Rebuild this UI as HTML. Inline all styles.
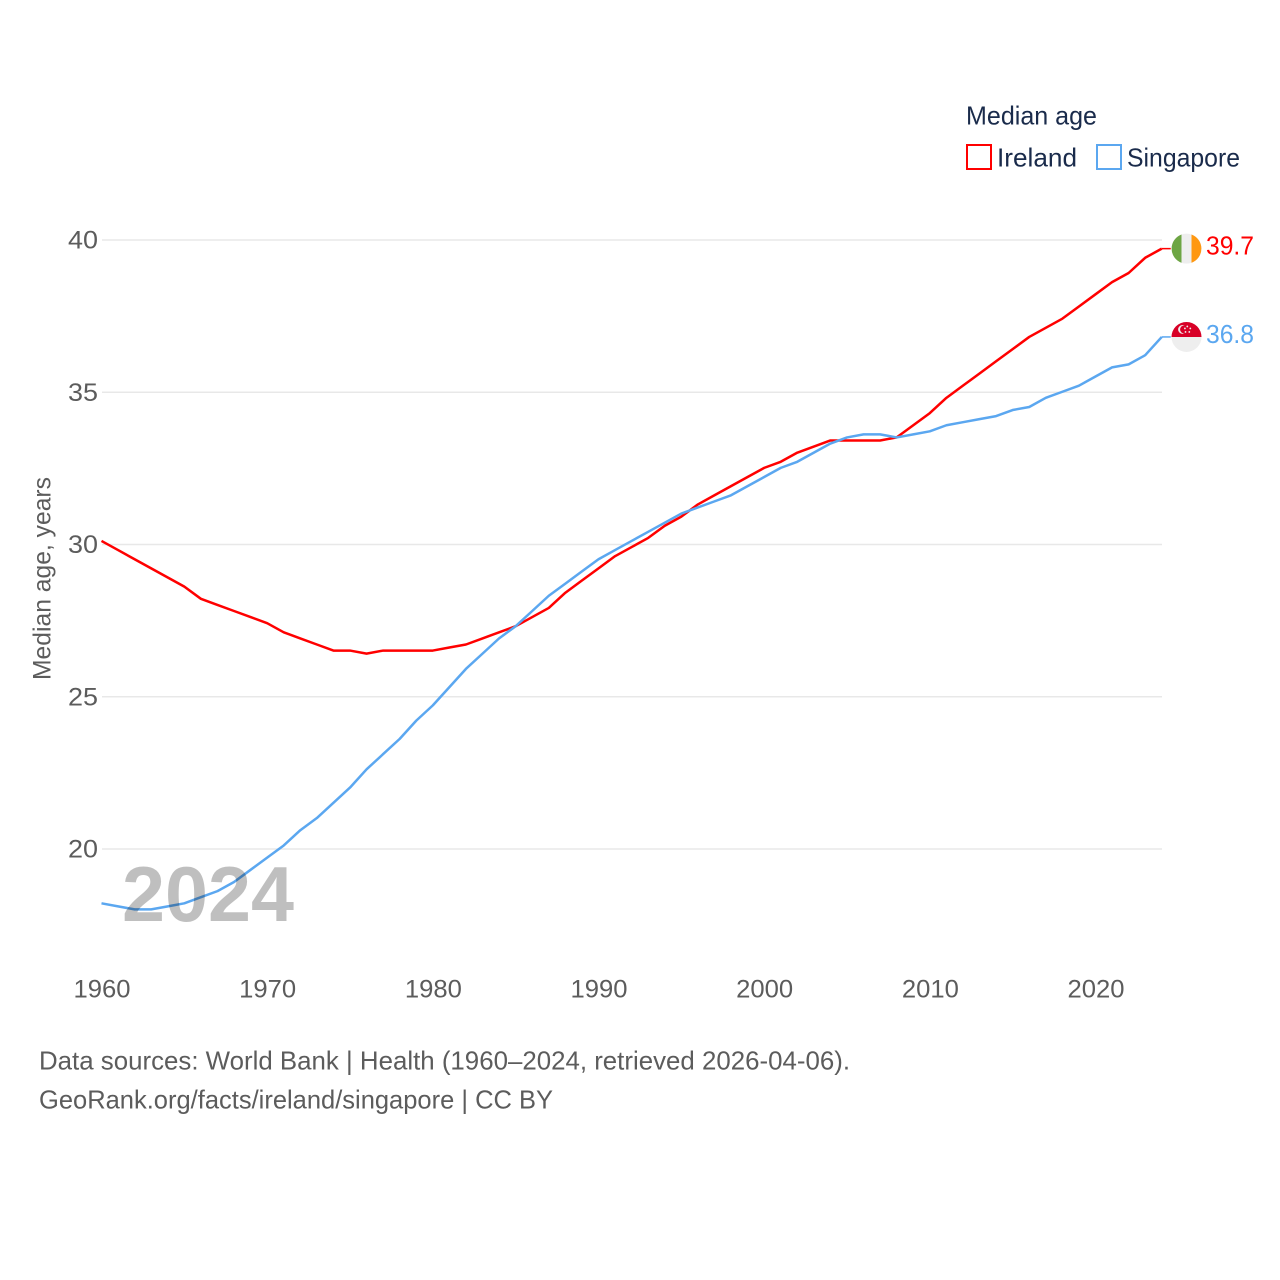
<!DOCTYPE html>
<html lang="en">
<head>
<meta charset="utf-8">
<title>Median age: Ireland and Singapore</title>
<style>
html,body{margin:0;padding:0;background:#fff}
svg{display:block;font-family:"Liberation Sans",sans-serif}
</style>
</head>
<body>
<svg id="chart" xmlns="http://www.w3.org/2000/svg" width="1280" height="1280" viewBox="0 0 1280 1280">
  <g id="grid"></g>
  <g id="yticks"></g>
  <g id="xticks"></g>
  <text transform="translate(50.5,680) rotate(-90)" font-size="25" fill="#5c5c5c" textLength="203" lengthAdjust="spacingAndGlyphs">Median age, years</text>
  <g id="series"></g>
  <text x="122" y="921" font-size="78" font-weight="700" fill="#000" fill-opacity="0.25" textLength="172" lengthAdjust="spacingAndGlyphs">2024</text>
  <g id="ends"></g>
  <g>
    <text x="966" y="124.5" font-size="26" fill="#1a2b4b" textLength="131" lengthAdjust="spacingAndGlyphs">Median age</text>
    <g>
      <rect x="967" y="145" width="24" height="24" fill="none" stroke="#ff0000" stroke-width="2"/>
      <text x="997" y="166.5" font-size="26" fill="#1a2b4b" textLength="80" lengthAdjust="spacingAndGlyphs">Ireland</text>
    </g>
    <g>
      <rect x="1097" y="145" width="24" height="24" fill="none" stroke="#5ba7f0" stroke-width="2"/>
      <text x="1127" y="166.5" font-size="26" fill="#1a2b4b" textLength="113" lengthAdjust="spacingAndGlyphs">Singapore</text>
    </g>
  </g>
  <text x="39" y="1069.5" font-size="26" fill="#5c5c5c" textLength="811" lengthAdjust="spacingAndGlyphs">Data sources: World Bank | Health (1960–2024, retrieved 2026-04-06).</text>
  <text x="39" y="1108.5" font-size="26" fill="#5c5c5c" textLength="514" lengthAdjust="spacingAndGlyphs">GeoRank.org/facts/ireland/singapore | CC BY</text>
</svg>
<script>
const years = [1960,1961,1962,1963,1964,1965,1966,1967,1968,1969,1970,1971,1972,1973,1974,1975,1976,1977,1978,1979,1980,1981,1982,1983,1984,1985,1986,1987,1988,1989,1990,1991,1992,1993,1994,1995,1996,1997,1998,1999,2000,2001,2002,2003,2004,2005,2006,2007,2008,2009,2010,2011,2012,2013,2014,2015,2016,2017,2018,2019,2020,2021,2022,2023,2024];
const irelandValues = [30.1,29.8,29.5,29.2,28.9,28.6,28.2,28.0,27.8,27.6,27.4,27.1,26.9,26.7,26.5,26.5,26.4,26.5,26.5,26.5,26.5,26.6,26.7,26.9,27.1,27.3,27.6,27.9,28.4,28.8,29.2,29.6,29.9,30.2,30.6,30.9,31.3,31.6,31.9,32.2,32.5,32.7,33.0,33.2,33.4,33.4,33.4,33.4,33.5,33.9,34.3,34.8,35.2,35.6,36.0,36.4,36.8,37.1,37.4,37.8,38.2,38.6,38.9,39.4,39.7];
const singaporeValues = [18.2,18.1,18.0,18.0,18.1,18.2,18.4,18.6,18.9,19.3,19.7,20.1,20.6,21.0,21.5,22.0,22.6,23.1,23.6,24.2,24.7,25.3,25.9,26.4,26.9,27.3,27.8,28.3,28.7,29.1,29.5,29.8,30.1,30.4,30.7,31.0,31.2,31.4,31.6,31.9,32.2,32.5,32.7,33.0,33.3,33.5,33.6,33.6,33.5,33.6,33.7,33.9,34.0,34.1,34.2,34.4,34.5,34.8,35.0,35.2,35.5,35.8,35.9,36.2,36.8];
const yTickValues = [20,25,30,35,40];
const xTickValues = [1960,1970,1980,1990,2000,2010,2020];

const NS = 'http://www.w3.org/2000/svg';
const xScale = year => 102 + (year - 1960) * (1096 - 102) / 60;
const yScale = value => 240 + (40 - value) * (849 - 240) / 20;
const make = (tag, parent) => {
  const el = document.createElementNS(NS, tag);
  parent.appendChild(el);
  return el;
};
const set = (el, props) => {
  for (const k in props) el.setAttribute(k, props[k]);
  return el;
};

const gridG = document.getElementById('grid');
const yG = document.getElementById('yticks');
const xG = document.getElementById('xticks');
const seriesG = document.getElementById('series');
const endsG = document.getElementById('ends');

yTickValues.forEach(v => {
  const line = make('line', gridG);
  
  
  set(line, {x1: 102, x2: 1162, y1: yScale(v), y2: yScale(v), stroke: '#e8e8e8', 'stroke-width': 1.5});
  const label = make('text', yG);
  
  
  set(label, {x: 98, y: yScale(v) + 8.5, 'text-anchor': 'end', 'font-size': 25, fill: '#5c5c5c', textLength: 30, lengthAdjust: 'spacingAndGlyphs'});
  label.textContent = v;
});

xTickValues.forEach(v => {
  const label = make('text', xG);
  
  
  set(label, {x: xScale(v) - 28.5, y: 997.5, 'font-size': 25, fill: '#5c5c5c', textLength: 57, lengthAdjust: 'spacingAndGlyphs'});
  label.textContent = v;
});

function drawLine(values, color, name) {
  const path = make('polyline', seriesG);
  
  
  const pts = values.map((v, i) => (xScale(years[i]) - 0.5).toFixed(2) + ',' + (yScale(v) - 0.5).toFixed(2));
  set(path, {points: pts.join(' '), fill: 'none', stroke: color, 'stroke-width': 2.5, 'stroke-linejoin': 'round'});
}
drawLine(irelandValues, '#ff0000', 'ireland-line');
drawLine(singaporeValues, '#5ba7f0', 'singapore-line');

function drawEnd(values, color, name, paintFlag) {
  const last = values[values.length - 1];
  const x = xScale(years[years.length - 1]) - 0.5;
  const y = yScale(last) - 0.5;
  const stem = make('line', endsG);
  
  
  set(stem, {x1: x, x2: x + 9, y1: y, y2: y, stroke: color, 'stroke-width': 1.5});
  const flag = make('g', endsG);
  
  
  set(flag, {transform: 'translate(1186.5,' + y.toFixed(2) + ')'});
  paintFlag(flag);
  const label = make('text', endsG);
  
  
  set(label, {x: 1206, y: y + 6, 'font-size': 26, fill: color, textLength: 48, lengthAdjust: 'spacingAndGlyphs'});
  label.textContent = last.toFixed(1);
}

function paintIreland(g) {
  const white = make('circle', g);
  set(white, {r: 15, fill: '#eeeeee'});
  const green = make('path', g);
  set(green, {d: 'M-5,-14.1A15,15 0 0 0 -5,14.1Z', fill: '#6da544'});
  const orange = make('path', g);
  set(orange, {d: 'M5,-14.1A15,15 0 0 1 5,14.1Z', fill: '#ff9811'});
}

function paintSingapore(g) {
  const white = make('circle', g);
  set(white, {r: 15, fill: '#eeeeee'});
  const red = make('path', g);
  set(red, {d: 'M-15,0A15,15 0 0 1 15,0Z', fill: '#d80027'});
  const moon = make('circle', g);
  set(moon, {cx: -4, cy: -7.5, r: 4.4, fill: '#eeeeee'});
  const moonCut = make('circle', g);
  set(moonCut, {cx: -2.4, cy: -7.5, r: 4, fill: '#d80027'});
  [[0,-10.5],[3,-8.5],[2,-5],[-1.8,-5],[-2.4,-8.5]].forEach(p => {
    const star = make('circle', g);
    set(star, {cx: p[0] + 0.8, cy: p[1], r: 0.9, fill: '#eeeeee'});
  });
}

drawEnd(irelandValues, '#ff0000', 'ireland', paintIreland);
drawEnd(singaporeValues, '#5ba7f0', 'singapore', paintSingapore);
</script>
</body>
</html>
